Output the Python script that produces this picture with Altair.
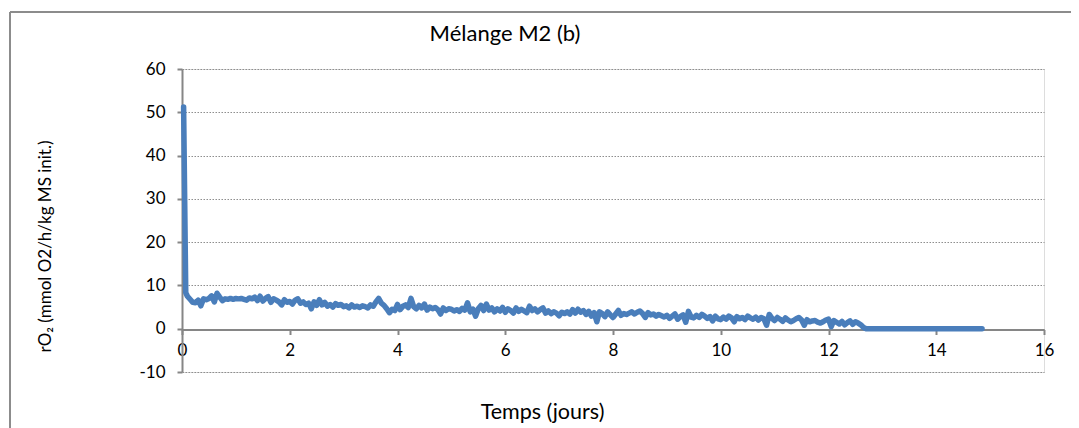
import altair as alt
import pandas as pd

# Initial spike (days, value)
start_t = [0.03, 0.07]
start_v = [51.2, 8.3]

grid_start = 0.10
grid_step = 0.05
noisy_v = [
    7.5, 6.8, 6.1, 6.0, 6.6, 5.3, 6.9, 6.7, 7.0, 7.6, 6.2, 8.2, 7.3, 6.5, 6.9, 6.8, 7.0, 6.8,
    7.0, 6.9, 7.0, 6.8, 6.6, 7.1, 6.9, 7.3, 6.5, 7.5, 6.4, 7.0, 7.4, 6.1, 6.9, 6.6, 6.2, 5.5, 6.7, 6.1,
    6.3, 5.7, 6.6, 6.9, 5.9, 6.2, 5.6, 5.9, 4.6, 6.2, 5.4, 6.7, 5.5, 6.1, 5.2, 5.6, 5.0, 5.8, 5.4, 5.6,
    5.1, 5.3, 4.8, 5.5, 5.0, 5.2, 4.9, 5.3, 5.1, 4.8, 5.5, 5.2, 6.2, 7.0, 5.9, 5.4, 4.6, 3.7, 4.5, 4.2,
    5.6, 4.4, 5.2, 5.5, 4.9, 7.0, 5.1, 4.6, 5.4, 4.8, 5.7, 4.3, 5.0, 4.6, 4.9, 4.4, 3.4, 4.8, 4.2, 4.6,
    4.5, 4.1, 4.4, 4.0, 4.7, 4.3, 6.0, 3.9, 4.5, 2.9, 4.6, 5.4, 4.2, 5.7, 4.3, 4.8, 3.9, 4.6, 4.1, 4.9,
    3.8, 4.6, 4.2, 3.6, 4.8, 4.0, 4.5, 4.1, 3.7, 5.2, 4.2, 4.6, 3.9, 4.4, 4.8, 3.6, 4.1, 3.5, 3.9, 3.6,
    3.0, 3.8, 3.5, 3.9, 3.4, 4.4, 3.6, 4.5, 3.8, 4.2, 3.3, 4.0, 2.9, 3.7, 1.6, 3.9, 3.5, 2.8, 3.9, 3.2,
    2.6, 3.4, 4.2, 3.1, 3.5, 3.3, 3.6, 3.9, 3.4, 3.8, 4.1, 3.5, 2.6, 3.7, 3.2, 3.4, 2.9, 3.3, 3.0, 2.7,
    3.1, 2.4, 2.9, 3.4, 2.2, 2.8, 3.2, 1.5, 4.0, 2.7, 2.5, 3.1, 2.6, 3.3, 2.9, 2.4, 2.8, 1.8, 2.9, 2.3,
    2.1, 2.7, 2.2, 2.9, 2.5, 1.6, 2.8, 2.3, 2.6, 2.1, 2.9, 2.5, 2.2, 2.7, 2.0, 2.6, 2.3, 0.8, 3.3, 2.4,
    1.9, 2.6, 2.2, 1.7, 2.5, 2.0, 1.6, 1.9, 2.3, 2.6, 2.0, 0.8, 2.1, 1.6, 1.8, 1.9, 1.5, 1.3, 1.6, 2.0,
    2.2, 0.5, 1.9, 1.5, 1.1, 1.7, 0.9, 1.4, 1.8, 1.0, 1.6, 1.3, 0.9, 0.3,
]

# Final flat segment at zero
end_t = [12.70, 14.85]
end_v = [0.0, 0.0]

x_ticks = [0, 2, 4, 6, 8, 10, 12, 14, 16]
y_ticks = [-10, 0, 10, 20, 30, 40, 50, 60]
chart_title = ["Mélange M2 (b)"]

times = list(start_t) + [round(grid_start + i * grid_step, 2) for i in range(len(noisy_v))] + list(end_t)
vals = list(start_v) + list(noisy_v) + list(end_v)
df = pd.DataFrame({"t": times, "v": vals})
title_df = pd.DataFrame({"label": chart_title})

FONT = "Lato"
AX = "#868686"

line = alt.Chart(df).mark_line(
    color="#4a7ebb", strokeWidth=5.5, strokeJoin="round", strokeCap="round"
).encode(
    x=alt.X("t:Q",
            scale=alt.Scale(domain=[0, 16], nice=False, zero=False),
            axis=alt.Axis(values=x_ticks, title="Temps (jours)", offset=-42.5,
                          grid=False, domainColor=AX, domainWidth=2,
                          tickColor=AX, tickWidth=2, tickSize=5,
                          labelFont=FONT, labelFontSize=17, labelColor="#000000",
                          labelPadding=8, labelFlush=False,
                          labelExpr="'' + datum.value",
                          titleFont=FONT, titleFontSize=21.5, titleFontWeight="normal",
                          titleColor="#000000", titleX=360, titleY=89,
                          titleBaseline="alphabetic", titleAnchor="middle")),
    y=alt.Y("v:Q",
            scale=alt.Scale(domain=[-10, 60], nice=False, zero=False),
            axis=alt.Axis(values=y_ticks, title="rO₂ (mmol O2/h/kg MS init.)",
                          grid=True, gridColor="#8e8e8e", gridDash=[1.5, 1.5], gridWidth=1.2,
                          domainColor=AX, domainWidth=2,
                          tickColor=AX, tickWidth=2, tickSize=5,
                          labelFont=FONT, labelFontSize=17, labelColor="#000000",
                          labelPadding=12, labelExpr="'' + datum.value",
                          titleFont=FONT, titleFontSize=17, titleFontWeight="normal",
                          titleColor="#000000", titleX=-137, titleY=177,
                          titleAngle=270, titleBaseline="middle", titleAlign="center")),
)

title_text = alt.Chart(title_df).mark_text(
    font=FONT, fontSize=22, color="#000000", align="center", baseline="alphabetic"
).encode(text="label:N", x=alt.value(323), y=alt.value(-28))

border_left = alt.Chart(title_df).mark_rule(color="#8c8c8c", strokeWidth=2).encode(
    x=alt.value(-172), y=alt.value(-57), y2=alt.value(2000))
border_top = alt.Chart(title_df).mark_rule(color="#8c8c8c", strokeWidth=2).encode(
    x=alt.value(-172), x2=alt.value(2000), y=alt.value(-57))

chart = alt.layer(border_left, border_top, line, title_text).properties(
    width=862, height=303,
    autosize=alt.AutoSizeParams(type="none"),
    padding={"left": 174, "top": 61, "right": 27, "bottom": 56},
).configure_view(stroke=None).configure(background="#ffffff")

chart.save("out.html", embed_options={"renderer": "svg", "actions": False})
